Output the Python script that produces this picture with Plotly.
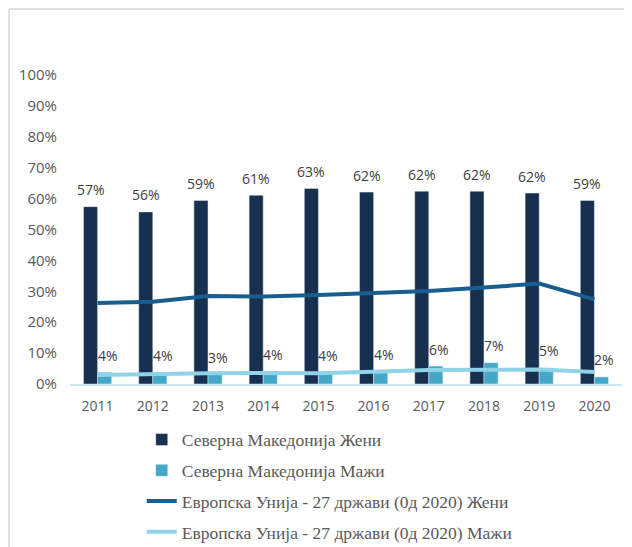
import plotly.graph_objects as go

# categories
years = ['2011', '2012', '2013', '2014', '2015', '2016', '2017', '2018', '2019', '2020']

# values in percent
mk_women = [57.4, 55.7, 59.4, 61.1, 63.3, 62.1, 62.4, 62.4, 61.8, 59.4]
mk_men = [3.8, 3.7, 3.2, 4.1, 3.8, 4.0, 5.8, 6.9, 5.2, 2.3]
eu_women = [26.2, 26.6, 28.5, 28.3, 28.8, 29.5, 30.1, 31.2, 32.5, 27.4]
eu_men = [2.9, 3.3, 3.5, 3.6, 3.5, 4.0, 4.5, 4.6, 4.7, 3.9]

y_ticks = [0, 10, 20, 30, 40, 50, 60, 70, 80, 90, 100]
y_tick_labels = [f'{t}%' for t in y_ticks]

names = [
    'Северна Македонија Жени',
    'Северна Македонија Мажи',
    'Европска Унија - 27 држави (0д 2020) Жени',
    'Европска Унија - 27 држави (0д 2020) Мажи',
]

sans = 'Open Sans, Liberation Sans, sans-serif'
label_font = dict(family=sans, size=14, color='#404040')

fig = go.Figure()

fig.add_trace(go.Bar(x=years, y=mk_women, name=names[0], marker_color='#17304F', legendgroup='a'))
fig.add_trace(go.Bar(x=years, y=mk_men, name=names[1], marker_color='#44A9C8', legendgroup='b'))
fig.add_trace(go.Scatter(
    x=years, y=eu_women, name=names[2], mode='lines',
    line=dict(color='#185E8E', width=4), legendgroup='c',
))
fig.add_trace(go.Scatter(
    x=years, y=eu_men, name=names[3], mode='lines',
    line=dict(color='#90D2E8', width=4), legendgroup='d',
))

# data labels above each bar (x given as category index)
for vals, dx in ((mk_women, -7), (mk_men, 10)):
    for i, v in enumerate(vals):
        fig.add_annotation(x=i, y=v, text=f'{round(v)}%', showarrow=False,
                           xshift=dx, yshift=17, font=label_font)

# outer chart border (top and left edges visible)
border = '#D9D9D9'
bx = (1 - 62) / 552
by = (376 - 1) / 309
fig.add_shape(type='line', xref='paper', yref='paper', x0=bx, x1=1.2, y0=by, y1=by,
              line=dict(color=border, width=1.5))
fig.add_shape(type='line', xref='paper', yref='paper', x0=bx, x1=bx, y0=by, y1=-0.6,
              line=dict(color=border, width=1.5))

fig.update_layout(
    width=632, height=547,
    margin=dict(l=62, r=18, t=67, b=171, autoexpand=False),
    paper_bgcolor='white', plot_bgcolor='white',
    barmode='group', bargap=0.49, bargroupgap=0,
    font=dict(family=sans, size=14, color='#595959'),
    legend=dict(
        orientation='v', x=0.13, y=-0.122, xanchor='left', yanchor='top',
        traceorder='grouped', tracegroupgap=5, itemwidth=30,
        font=dict(family='Liberation Serif, DejaVu Serif, serif', size=17.5, color='#595959'),
    ),
    showlegend=True,
)
fig.update_xaxes(
    type='category', showgrid=False, showline=True, linecolor='#CDE8F0', linewidth=1.5,
    ticks='', ticklabelstandoff=8, tickfont=dict(size=14, color='#595959'),
)
fig.update_yaxes(
    range=[0, 100], tickvals=y_ticks, ticktext=y_tick_labels, showgrid=False,
    zeroline=False, showline=False, ticks='', ticklabelstandoff=12,
    tickfont=dict(size=15, color='#595959'),
)

fig.write_html('out.html')
